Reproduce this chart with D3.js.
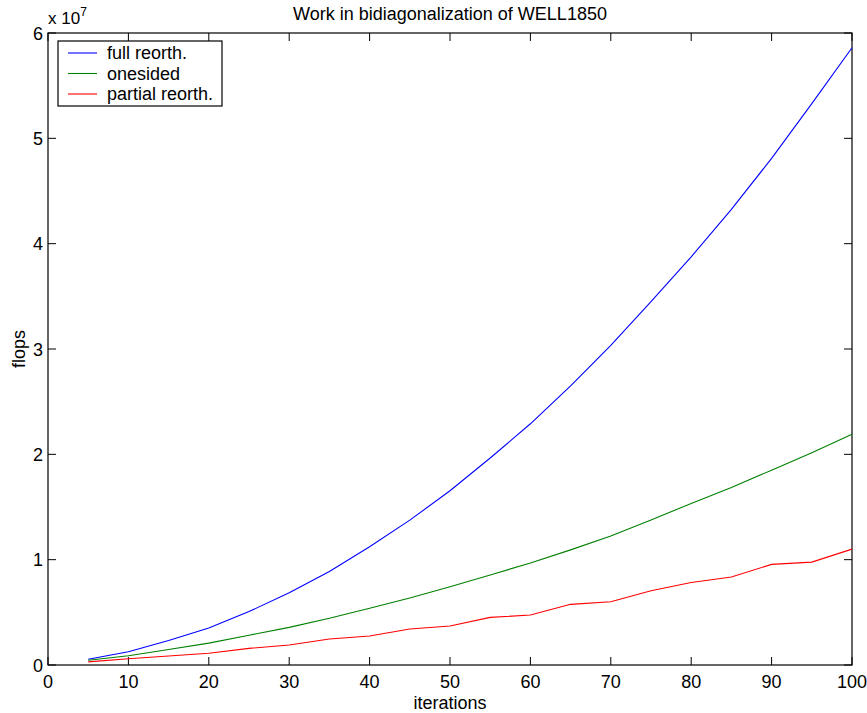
<!DOCTYPE html>
<html>
<head>
<meta charset="utf-8">
<script src="https://cdn.jsdelivr.net/npm/d3@7"></script>
<style>
  body { margin: 0; background: #fff; }
  svg { font-family: "Liberation Sans", Arial, sans-serif; }
</style>
</head>
<body>
<svg width="867" height="713"></svg>
<script>
var iterations = [5, 10, 15, 20, 25, 30, 35, 40, 45, 50, 55, 60, 65, 70, 75, 80, 85, 90, 95, 100];

// flops, in units of 1e7
var fullReorth = [0.055, 0.126, 0.232, 0.352, 0.507, 0.685, 0.888, 1.122, 1.375, 1.654,
                  1.965, 2.29, 2.65, 3.035, 3.45, 3.875, 4.325, 4.81, 5.33, 5.86];
var onesided   = [0.045, 0.088, 0.147, 0.208, 0.282, 0.357, 0.443, 0.538, 0.636, 0.743,
                  0.855, 0.968, 1.093, 1.224, 1.376, 1.534, 1.686, 1.85, 2.016, 2.19];
var partial    = [0.03, 0.06, 0.085, 0.111, 0.158, 0.19, 0.247, 0.275, 0.342, 0.37,
                  0.452, 0.474, 0.576, 0.60, 0.705, 0.784, 0.835, 0.955, 0.977, 1.10];

var seriesNames = ["full reorth.", "onesided", "partial reorth."];
var seriesColors = ["#0000ff", "#008000", "#ff0000"];
var xTicks = [0, 10, 20, 30, 40, 50, 60, 70, 80, 90, 100];
var yTicks = [0, 1, 2, 3, 4, 5, 6];

var svg = d3.select("svg");
var plotLeft = 48, plotRight = 852, plotTop = 33, plotBottom = 665;

var x = d3.scaleLinear().domain([0, 100]).range([plotLeft, plotRight]);
var y = d3.scaleLinear().domain([0, 6]).range([plotBottom, plotTop]);

var tick = 8;

// box
svg.append("rect")
    .attr("x", plotLeft).attr("y", plotTop)
    .attr("width", plotRight - plotLeft).attr("height", plotBottom - plotTop)
    .attr("fill", "none").attr("stroke", "#000").attr("stroke-width", 1.2);

// x ticks (bottom and top, inward)
var gx = svg.append("g");
xTicks.forEach(function(t) {
  gx.append("line").attr("x1", x(t)).attr("x2", x(t))
      .attr("y1", plotBottom).attr("y2", plotBottom - tick)
      .attr("stroke", "#000");
  gx.append("line").attr("x1", x(t)).attr("x2", x(t))
      .attr("y1", plotTop).attr("y2", plotTop + tick)
      .attr("stroke", "#000");
  gx.append("text").attr("x", x(t)).attr("y", plotBottom + 23)
      .attr("text-anchor", "middle").attr("font-size", 18)
      .text(t);
});

// y ticks (left and right, inward)
var gy = svg.append("g");
yTicks.forEach(function(t) {
  gy.append("line").attr("x1", plotLeft).attr("x2", plotLeft + tick)
      .attr("y1", y(t)).attr("y2", y(t))
      .attr("stroke", "#000");
  gy.append("line").attr("x1", plotRight).attr("x2", plotRight - tick)
      .attr("y1", y(t)).attr("y2", y(t))
      .attr("stroke", "#000");
  gy.append("text").attr("x", plotLeft - 5).attr("y", y(t) + 6.5)
      .attr("text-anchor", "end").attr("font-size", 18)
      .text(t);
});

// exponent label
var ex = svg.append("text").attr("x", 48).attr("y", 24).attr("font-size", 17);
ex.append("tspan").text("x 10");
ex.append("tspan").attr("dy", -8).attr("font-size", 12).text("7");

// lines
var line = d3.line()
    .x(function(d, i) { return x(iterations[i]); })
    .y(function(d) { return y(d); });

[fullReorth, onesided, partial].forEach(function(s, i) {
  svg.append("path")
      .datum(s)
      .attr("d", line)
      .attr("fill", "none")
      .attr("stroke", seriesColors[i])
      .attr("stroke-width", 1.1);
});

// title and axis labels
svg.append("text").attr("x", (plotLeft + plotRight) / 2).attr("y", 20)
    .attr("text-anchor", "middle").attr("font-size", 18)
    .text("Work in bidiagonalization of WELL1850");

svg.append("text").attr("x", (plotLeft + plotRight) / 2).attr("y", 709)
    .attr("text-anchor", "middle").attr("font-size", 18)
    .text("iterations");

svg.append("text")
    .attr("transform", "translate(25," + ((plotTop + plotBottom) / 2) + ") rotate(-90)")
    .attr("text-anchor", "middle").attr("font-size", 18)
    .text("flops");

// legend
var lg = svg.append("g");
lg.append("rect").attr("x", 58).attr("y", 41).attr("width", 164).attr("height", 65)
    .attr("fill", "#fff").attr("stroke", "#000").attr("stroke-width", 1.2);
seriesNames.forEach(function(n, i) {
  var ly = 53 + i * 20.5;
  lg.append("line").attr("x1", 68).attr("x2", 97).attr("y1", ly).attr("y2", ly)
      .attr("stroke", seriesColors[i]).attr("stroke-width", 1.1);
  lg.append("text").attr("x", 107).attr("y", ly + 6)
      .attr("font-size", 18).text(n);
});
</script>
</body>
</html>
